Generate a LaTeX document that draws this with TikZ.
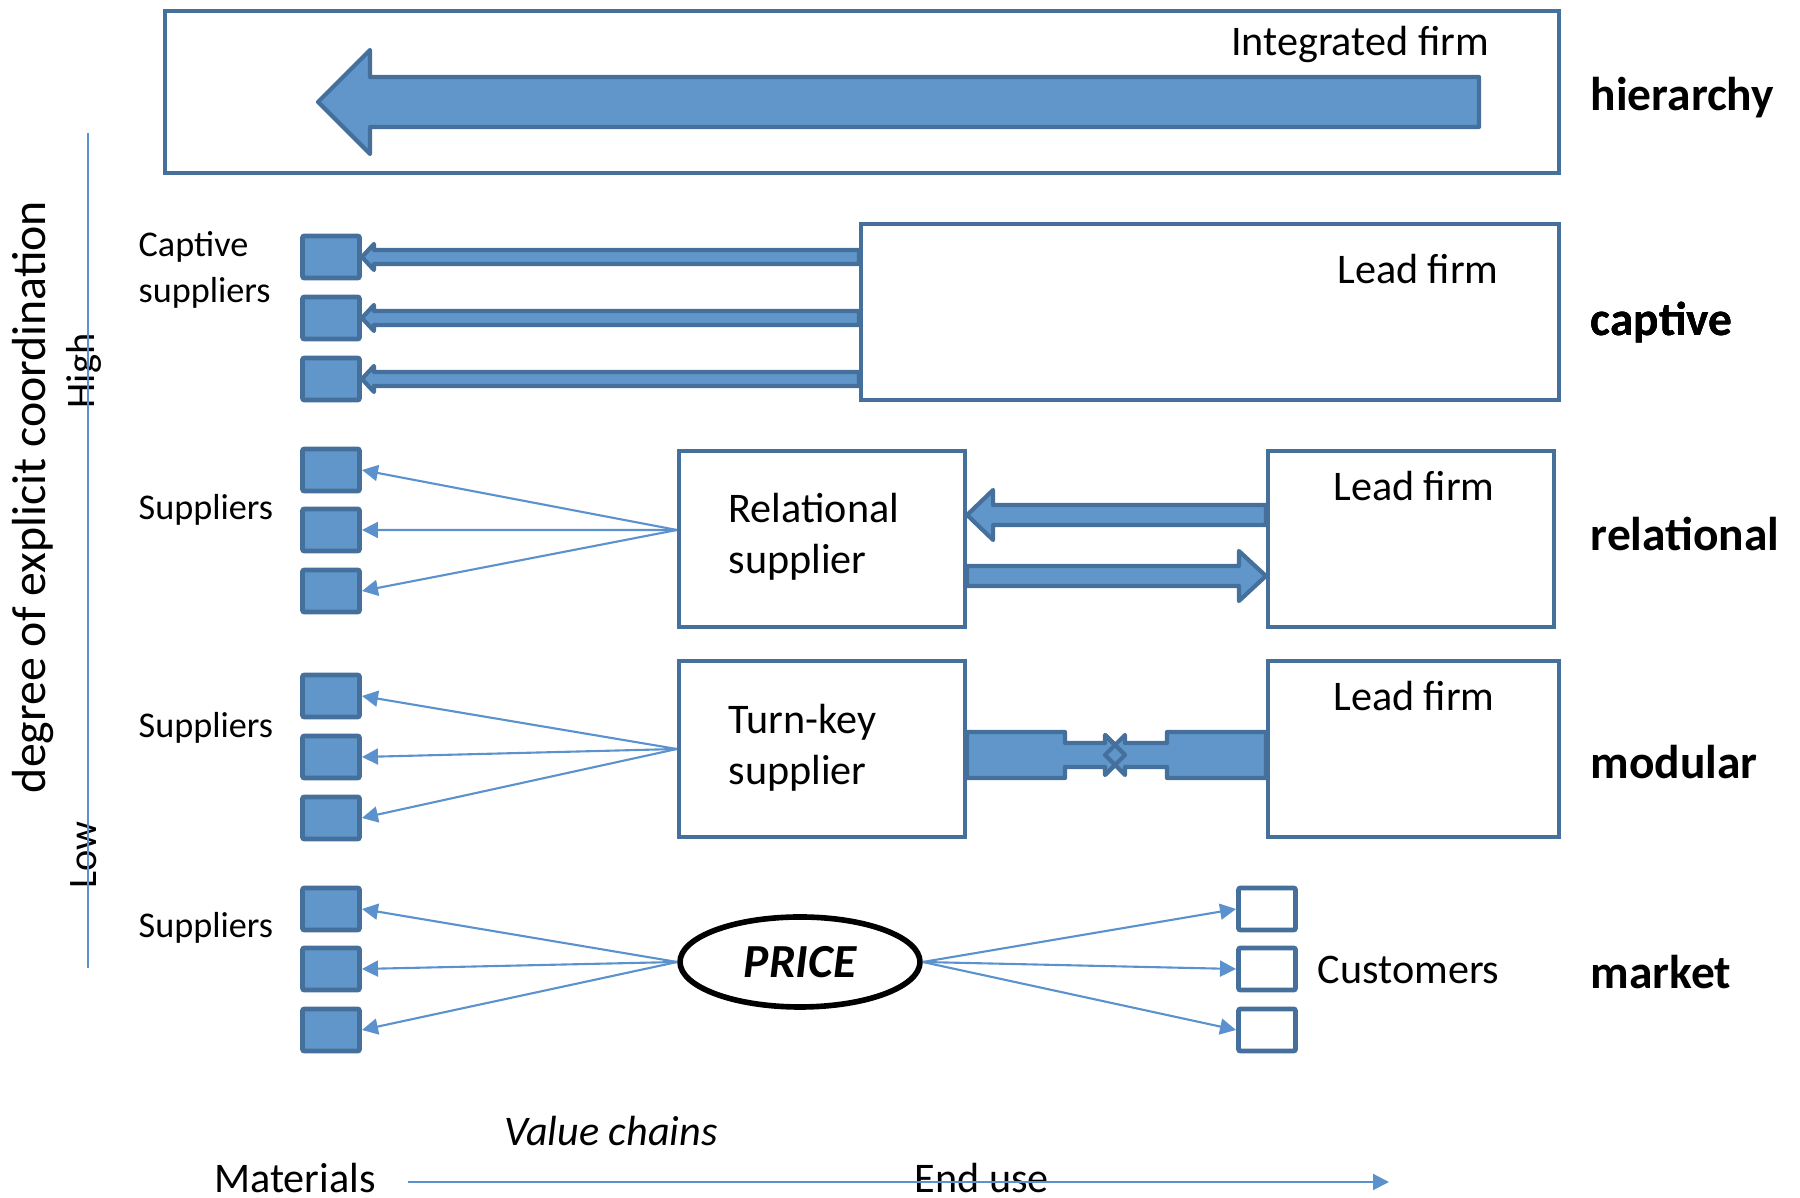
\documentclass[tikz,border=0pt]{standalone}
\usepackage{fontspec}
\setmainfont{Carlito}
\usetikzlibrary{shapes.geometric,arrows.meta,calc}

\definecolor{bfill}{RGB}{96,150,201}
\definecolor{bedge}{RGB}{70,112,156}
\definecolor{bline}{RGB}{91,146,206}

% horizontal block arrow: tail, tip, half shaft, half head, head length (signed)
\newcommand{\blockarrow}[5]{%
  \draw[bararrow] ($(#1|-#2)+(0,#3)$) -- ($(#2)+(#5,#3)$) -- ($(#2)+(#5,#4)$) -- (#2)
    -- ($(#2)+(#5,-#4)$) -- ($(#2)+(#5,-#3)$) -- ($(#1|-#2)+(0,-#3)$) -- cycle;}

\tikzset{
  box/.style={draw=bedge, line width=1.2pt, fill=white, inner sep=0pt},
  sq/.style={draw=bedge, fill=bfill, line width=1.4pt, minimum width=0.57cm, minimum height=0.42cm, inner sep=0pt, rounded corners=0.6pt},
  csq/.style={sq, fill=white},
  txt/.style={font=\fontsize{12}{14.5}\selectfont, inner sep=0pt},
  small/.style={font=\fontsize{10.3}{13.2}\selectfont, inner sep=0pt, anchor=west, align=left},
  kind/.style={font=\fontsize{13.5}{16}\selectfont\bfseries, anchor=west, inner sep=0pt},
  spread/.style={draw=bline, line width=0.6pt, -{Triangle[length=1.6mm,width=1.6mm]}},
  bararrow/.style={draw=bedge, fill=bfill, line width=1.2pt, line join=round},
}

\begin{document}
\begin{tikzpicture}
	\useasboundingbox (0,0) rectangle (18,11.98);

	% hierarchy
	\node[box, minimum width=13.94cm, minimum height=1.62cm] (hb) at (8.62,11.06) {};
	\node[txt] (hbt) at (13.60,11.53) {Integrated firm};
	\coordinate (htail) at (14.79,10.96);
	\coordinate (hhead) at (3.18,10.96);
	\blockarrow{htail}{hhead}{0.25}{0.52}{0.52}
	\node[kind] (hier) at (15.90,11.00) {hierarchy};

	% captive
	\node[box, minimum width=6.98cm, minimum height=1.76cm] (lf1) at (12.10,8.86) {};
	\node[txt] (lf1t) at (14.18,9.29) {Lead firm};
	\node[sq] (c1) at (3.31,9.41) {};
	\node[sq] (c2) at (3.31,8.80) {};
	\node[sq] (c3) at (3.31,8.19) {};
	\node[small] (cs) at (1.38,9.28) {Captive\\suppliers};
	\foreach \s in {c1,c2,c3}
		\blockarrow{lf1.west}{\s.east}{0.07}{0.13}{0.12}
	\node[kind] (capt) at (15.90,8.75) {captive};

	% relational
	\node[box, minimum width=2.86cm, minimum height=1.76cm] (rs) at (8.22,6.59) {};
	\node[txt, align=left, anchor=west] (rst) at (7.28,6.61) {Relational\\supplier};
	\node[box, minimum width=2.86cm, minimum height=1.76cm] (lf2) at (14.11,6.59) {};
	\node[txt] (lf2t) at (14.14,7.12) {Lead firm};
	\node[sq] (r1) at (3.31,7.28) {};
	\node[sq] (r2) at (3.31,6.68) {};
	\node[sq] (r3) at (3.31,6.07) {};
	\node[small] (rsup) at (1.38,6.88) {Suppliers};
	\coordinate (rsrc) at ($(rs.west)+(0,0.09)$);
	\foreach \s in {r1,r2,r3}
		\draw[spread] (rsrc) -- (\s.east);
	\coordinate (rl) at ($(rs.east)+(0,0.24)$);
	\coordinate (rr) at ($(lf2.west)+(0,-0.37)$);
	\blockarrow{lf2.west}{rl}{0.10}{0.25}{0.26}
	\blockarrow{rs.east}{rr}{0.10}{0.25}{-0.27}
	\node[kind] (rel) at (15.90,6.64) {relational};

	% modular
	\node[box, minimum width=2.86cm, minimum height=1.76cm] (tk) at (8.22,4.49) {};
	\node[txt, align=left, anchor=west] (tkt) at (7.28,4.50) {Turn-key\\supplier};
	\node[box, minimum width=2.91cm, minimum height=1.76cm] (lf3) at (14.135,4.49) {};
	\node[txt] (lf3t) at (14.14,5.02) {Lead firm};
	\node[sq] (m1) at (3.31,5.02) {};
	\node[sq] (m2) at (3.31,4.41) {};
	\node[sq] (m3) at (3.31,3.80) {};
	\node[small] (msup) at (1.38,4.70) {Suppliers};
	\foreach \s in {m1,m2,m3}
		\draw[spread] (tk.west) -- (\s.east);
	\draw[bararrow] (tk.east |- 0,4.66) -- (10.65,4.66) -- (10.65,4.55) -- (11.05,4.55) -- (11.05,4.63)
		-- (11.25,4.43) -- (11.05,4.23) -- (11.05,4.31) -- (10.65,4.31) -- (10.65,4.20) -- (tk.east |- 0,4.20) -- cycle;
	\draw[bararrow] (lf3.west |- 0,4.66) -- (11.67,4.66) -- (11.67,4.55) -- (11.25,4.55) -- (11.25,4.63)
		-- (11.05,4.43) -- (11.25,4.23) -- (11.25,4.31) -- (11.67,4.31) -- (11.67,4.20) -- (lf3.west |- 0,4.20) -- cycle;
	\draw[bedge, line width=1.2pt, line join=round] (11.05,4.63) -- (11.25,4.43) -- (11.05,4.23);
	\node[kind] (mod) at (15.90,4.36) {modular};

	% market
	\node[draw=black, line width=1.6pt, shape=ellipse, minimum width=2.40cm, minimum height=0.90cm, inner sep=0pt,
		font=\fontsize{13.5}{16}\selectfont\bfseries\itshape] (price) at (8.00,2.36) {PRICE};
	\node[sq] (k1) at (3.31,2.89) {};
	\node[sq] (k2) at (3.31,2.29) {};
	\node[sq] (k3) at (3.31,1.68) {};
	\node[csq] (u1) at (12.67,2.89) {};
	\node[csq] (u2) at (12.67,2.29) {};
	\node[csq] (u3) at (12.67,1.68) {};
	\node[small] (ksup) at (1.38,2.70) {Suppliers};
	\node[txt, anchor=west] (cust) at (13.17,2.28) {Customers};
	\foreach \s in {k1,k2,k3}
		\draw[spread] (price.west) -- (\s.east);
	\foreach \s in {u1,u2,u3}
		\draw[spread] (price.east) -- (\s.west);
	\node[kind] (mark) at (15.90,2.26) {market};

	% coordination axis
	\coordinate (ahi) at (0.88,10.65);
	\coordinate (alo) at (0.88,2.30);
	\node[txt, font=\fontsize{13.6}{16}\selectfont, rotate=90] (deg) at (0.33,7.01) {degree of explicit coordination};
	\node[txt, font=\fontsize{11.5}{14}\selectfont, rotate=90] (hi) at (0.84,8.27) {High};
	\node[txt, font=\fontsize{11.5}{14}\selectfont, rotate=90] (lo) at (0.84,3.43) {Low};
	\draw[bline, line width=0.6pt] (ahi) -- (alo);

	% value chain axis
	\node[txt, font=\fontsize{12}{14.5}\selectfont\itshape] (vc) at (6.11,0.67) {Value chains};
	\node[txt] (mat) at (2.95,0.20) {Materials};
	\node[txt] (end) at (9.82,0.20) {End use};
	\coordinate (vs) at (4.08,0.16);
	\coordinate (ve) at (13.89,0.16);
	\draw[spread] (vs) -- (ve);

\end{tikzpicture}
\end{document}
